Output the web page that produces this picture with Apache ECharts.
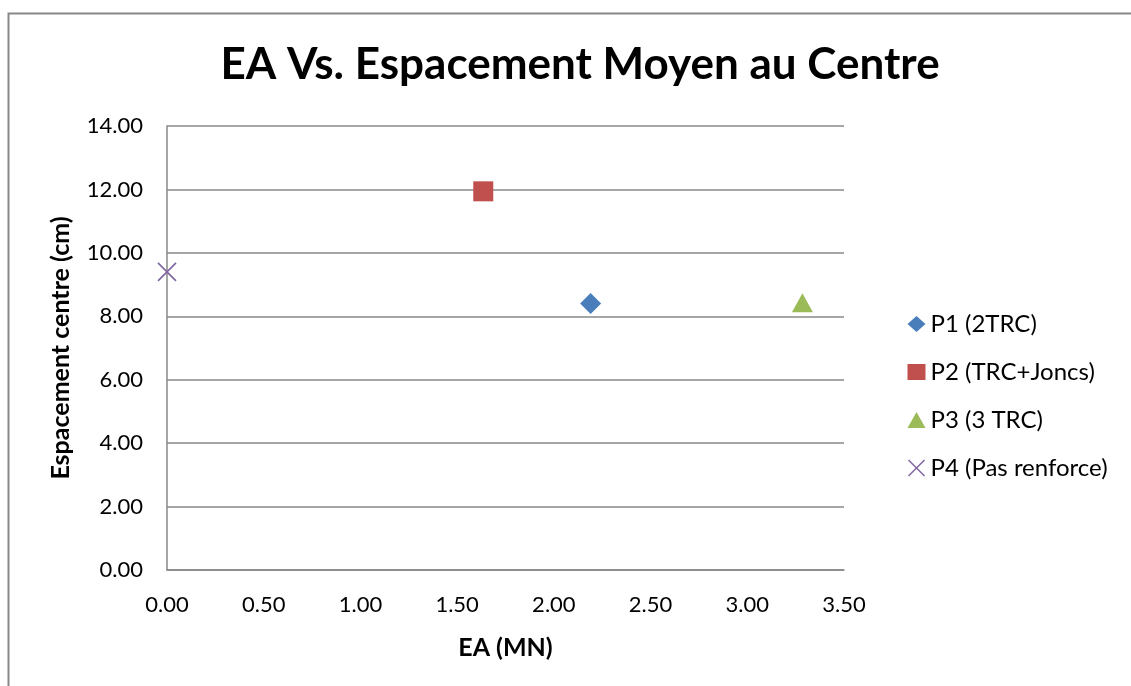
<!DOCTYPE html>
<html>
<head>
<meta charset="utf-8">
<script src="https://cdn.jsdelivr.net/npm/echarts@6/dist/echarts.min.js"></script>
<style>
  html, body { margin: 0; padding: 0; background: #fff; }
  #chart { width: 1131px; height: 686px; }
</style>
</head>
<body>
<div id="chart"></div>
<script>
// Series names and the (EA, spacing) pair for each specimen
const seriesNames = ['P1 (2TRC)', 'P2 (TRC+Joncs)', 'P3 (3 TRC)', 'P4 (Pas renforce)'];
const eaValues = [2.19, 1.635, 3.285, 0.0];
const spacingValues = [8.40, 11.94, 8.43, 9.40];
const seriesColors = ['#4a7ebb', '#c0504d', '#9bbb59', '#8064a2'];

const FONT = 'Lato, "Open Sans", sans-serif';

const symbols = [
  'diamond',
  'rect',
  'triangle',
  'path://M0,0L10,10M10,0L0,10'
];
const symbolSizes = [21, 20, [21, 19], 18];

const series = seriesNames.map((name, i) => {
  const isCross = i === 3;
  return {
    name: name,
    type: 'scatter',
    data: [[eaValues[i], spacingValues[i]]],
    symbol: symbols[i],
    symbolSize: symbolSizes[i],
    itemStyle: isCross
      ? { color: 'none', borderColor: seriesColors[i], borderWidth: 1.6, opacity: 1 }
      : { color: seriesColors[i], opacity: 1 },
    emphasis: { disabled: true }
  };
});

const chart = echarts.init(document.getElementById('chart'), null, { renderer: 'canvas' });
chart.setOption({
  animation: false,
  backgroundColor: '#ffffff',
  title: {
    text: 'EA Vs. Espacement Moyen au Centre',
    left: 575,
    textAlign: 'center',
    top: 38,
    textStyle: { fontFamily: FONT, fontWeight: 'bold', fontSize: 44, color: '#000' }
  },
  graphic: [{
    type: 'polyline',
    shape: { points: [[8.5, 700], [8.5, 13.5], [1140, 13.5]] },
    style: { stroke: '#888888', lineWidth: 2, fill: null },
    silent: true
  }],
  legend: {
    orient: 'vertical',
    left: 901,
    top: 307,
    itemGap: 24,
    itemWidth: 18,
    itemHeight: 16,
    data: seriesNames.map((n, i) => ({
      name: n,
      icon: i === 3 ? 'path://M0,0L10,10M10,0L0,10' : symbols[i],
      itemStyle: i === 3
        ? { color: 'none', borderColor: seriesColors[i], borderWidth: 1.5 }
        : { color: seriesColors[i] }
    })),
    textStyle: { fontFamily: FONT, fontSize: 24, lineHeight: 24, color: '#000', padding: [0, 0, 0, 0] },
    selectedMode: false
  },
  grid: { left: 167, right: 287, top: 126, bottom: 116 },
  xAxis: {
    type: 'value',
    min: 0, max: 3.5, interval: 0.5,
    name: 'EA (MN)',
    nameLocation: 'middle',
    nameGap: 65,
    nameTextStyle: { fontFamily: FONT, fontWeight: 'bold', fontSize: 25, color: '#000' },
    axisLine: { show: true, onZero: false, lineStyle: { color: '#888888', width: 1.5 } },
    axisTick: { show: false },
    splitLine: { show: false },
    axisLabel: {
      fontFamily: FONT, fontSize: 22, color: '#000', margin: 24,
      formatter: v => v.toFixed(2)
    }
  },
  yAxis: {
    type: 'value',
    min: 0, max: 14, interval: 2,
    name: 'Espacement centre (cm)',
    nameLocation: 'middle',
    nameGap: 94,
    nameTextStyle: { fontFamily: FONT, fontWeight: 'bold', fontSize: 25, color: '#000' },
    axisLine: { show: true, lineStyle: { color: '#888888', width: 1.5 } },
    axisTick: { show: false },
    splitLine: { show: true, lineStyle: { color: '#888888', width: 1.5 } },
    axisLabel: {
      fontFamily: FONT, fontSize: 22, color: '#000', margin: 24,
      formatter: v => v.toFixed(2)
    }
  },
  series: series
});
</script>
</body>
</html>
